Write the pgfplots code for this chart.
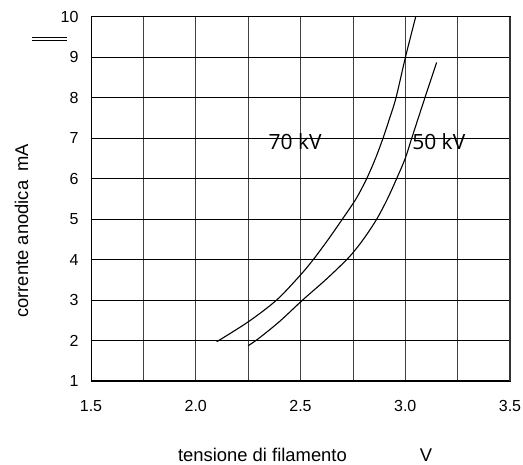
\documentclass[border=0pt]{standalone}
\usepackage{fontspec}
\setmainfont{Liberation Sans}
\newfontfamily\labfont{Open Sans}
\usepackage{pgfplots}
\pgfplotsset{compat=1.18}

\begin{document}
\begin{tikzpicture}
\useasboundingbox (0,0) rectangle (523pt,464pt);
\begin{axis}[
  at={(91pt,83pt)}, anchor=south west,
  scale only axis,
  width=419pt, height=364.3pt,
  xmin=1.5, xmax=3.5, ymin=1, ymax=10,
  xtick={1.5,2.0,2.5,3.0,3.5},
  minor xtick={1.75,2.25,2.75,3.25},
  ytick={1,2,...,10},
  major tick length=0pt, minor tick length=0pt,
  grid=both,
  major grid style={black!75, line width=0.6pt},
  minor grid style={black!75, line width=0.6pt},
  y grid style={black, line width=0.6pt},
  axis line style={black, line width=0.8pt},
  /pgf/number format/assume math mode=true,
  tick label style={font=\fontsize{16}{19}\selectfont},
  xticklabel style={/pgf/number format/.cd, fixed, fixed zerofill, precision=1, /tikz/.cd, yshift=-16pt},
  yticklabel style={xshift=-9pt},
  xlabel={tensione di filamento\hspace*{73pt}V},
  xlabel style={at={(axis description cs:0.511,-0.203)}, anchor=center, font=\fontsize{18.4}{22}\selectfont},
  ylabel={corrente anodica\hspace*{9pt}mA},
  ylabel style={at={(axis description cs:-0.166,0.412)}, anchor=center, font=\fontsize{18.4}{22}\selectfont},
  clip=false,
]
% 70 kV
\addplot[black, line width=1.1pt, smooth] coordinates {
  (2.10,1.97) (2.25,2.46) (2.386,3.0) (2.5,3.62) (2.561,4.0) (2.63,4.48)
  (2.70,5.0) (2.765,5.5) (2.816,6.0) (2.858,6.5) (2.894,7.0) (2.926,7.5)
  (2.956,8.0) (3.001,9.0) (3.05,10.0)
};
% 50 kV
\addplot[black, line width=1.1pt, smooth] coordinates {
  (2.25,1.87) (2.30,2.05) (2.40,2.47) (2.51,3.0) (2.62,3.5) (2.73,4.05)
  (2.80,4.5) (2.864,5.0) (2.915,5.5) (2.959,6.0) (3.0,6.5) (3.031,7.0)
  (3.094,8.0) (3.15,8.87)
};
\node[font=\labfont\fontsize{21}{24}\selectfont] at (axis cs:2.474,6.91) {70 kV};
\node[font=\labfont\fontsize{21}{24}\selectfont] at (axis cs:3.160,6.91) {50 kV};
\draw[black, line width=2pt] (rel axis cs:0,0) -- (rel axis cs:1,0);
\draw[black!80, line width=2pt] (rel axis cs:1,0) -- (rel axis cs:1,1);
\end{axis}
\draw[black, line width=0.8pt] (32pt,426.3pt) -- (67pt,426.3pt);
\draw[black, line width=0.8pt] (32pt,423.3pt) -- (67pt,423.3pt);
\end{tikzpicture}
\end{document}
